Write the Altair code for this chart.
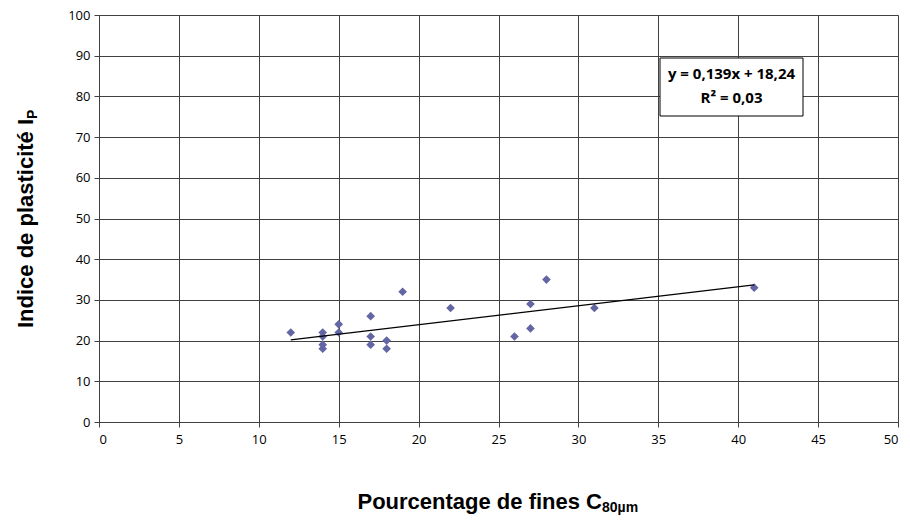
import altair as alt
import pandas as pd

# Data
fines = [12, 14, 14, 14, 14, 15, 15, 17, 17, 17, 18, 18, 19, 22, 26, 27, 27, 28, 31, 41]
ip = [22, 22, 21, 19, 18, 24, 22, 26, 21, 19, 20, 18, 32, 28, 21, 29, 23, 35, 28, 33]
x_ticks = list(range(0, 51, 5))
y_ticks = list(range(0, 101, 10))
eq_lines = ["y = 0,139x + 18,24", "R² = 0,03"]

df = pd.DataFrame({"x": fines, "y": ip})

W, H = 799, 407
FONT_LBL = "Open Sans"
FONT_TTL = "Liberation Sans"
GRID = "#404040"

xs = alt.Scale(domain=[0, 50], nice=False, zero=False)
ys = alt.Scale(domain=[0, 100], nice=False)

base = alt.Chart(df)

points = base.mark_point(shape="diamond", filled=True, size=75, color="#6266a3", opacity=1).encode(
    x=alt.X("x:Q", scale=xs, axis=alt.Axis(values=x_ticks, title=None, grid=True,
                                            gridColor=GRID, gridWidth=1,
                                            domainColor=GRID, tickColor=GRID,
                                            tickSize=5, labelFont=FONT_LBL, labelFontSize=13,
                                            labelColor="#000", labelPadding=6)),
    y=alt.Y("y:Q", scale=ys, axis=alt.Axis(values=y_ticks, title=None, grid=True,
                                            gridColor=GRID, gridWidth=1,
                                            domainColor=GRID, tickColor=GRID,
                                            tickSize=5, labelFont=FONT_LBL, labelFontSize=13,
                                            labelColor="#000", labelPadding=4)),
)

trend = base.transform_regression("x", "y", extent=[min(fines), max(fines)]).mark_line(
    color="black", strokeWidth=1.3
).encode(x=alt.X("x:Q", scale=xs), y=alt.Y("y:Q", scale=ys))

one = pd.DataFrame({"a": [0]})

# Equation box
box = alt.Chart(one).mark_rect(
    fill="white", stroke="black", strokeWidth=1
).encode(x=alt.value(561), x2=alt.value(704), y=alt.value(43), y2=alt.value(101))

eq1 = alt.Chart(one).mark_text(
    text=eq_lines[0], font=FONT_LBL, fontSize=15, fontWeight="bold", color="black",
    align="center", baseline="middle"
).encode(x=alt.value(632.5), y=alt.value(59))
eq2 = alt.Chart(one).mark_text(
    text=eq_lines[1], font=FONT_LBL, fontSize=15, fontWeight="bold", color="black",
    align="center", baseline="middle"
).encode(x=alt.value(632.5), y=alt.value(83))

# Axis titles with subscripts
xt_main = alt.Chart(one).mark_text(
    text="Pourcentage de fines C", font=FONT_TTL, fontSize=22, fontWeight="bold",
    align="right", baseline="alphabetic", color="black"
).encode(x=alt.value(503), y=alt.value(494))
xt_sub = alt.Chart(one).mark_text(
    text="80µm", font=FONT_TTL, fontSize=14, fontWeight="bold",
    align="left", baseline="alphabetic", color="black"
).encode(x=alt.value(503), y=alt.value(497))

yt_main = alt.Chart(one).mark_text(
    text="Indice de plasticité I", font=FONT_TTL, fontSize=22, fontWeight="bold",
    align="left", baseline="alphabetic", angle=270, color="black"
).encode(x=alt.value(-66), y=alt.value(313))
yt_sub = alt.Chart(one).mark_text(
    text="P", font=FONT_TTL, fontSize=14, fontWeight="bold",
    align="left", baseline="alphabetic", angle=270, color="black"
).encode(x=alt.value(-62), y=alt.value(104))

chart = alt.layer(points, trend, box, eq1, eq2, xt_main, xt_sub, yt_main, yt_sub).properties(
    width=W, height=H,
    autosize=alt.AutoSizeParams(type="none"),
    padding={"left": 91, "top": 7, "right": 4, "bottom": 93},
).configure_view(stroke=GRID, strokeWidth=1).configure(background="white")

chart.save("out.html", embed_options={"renderer": "svg", "actions": False})
